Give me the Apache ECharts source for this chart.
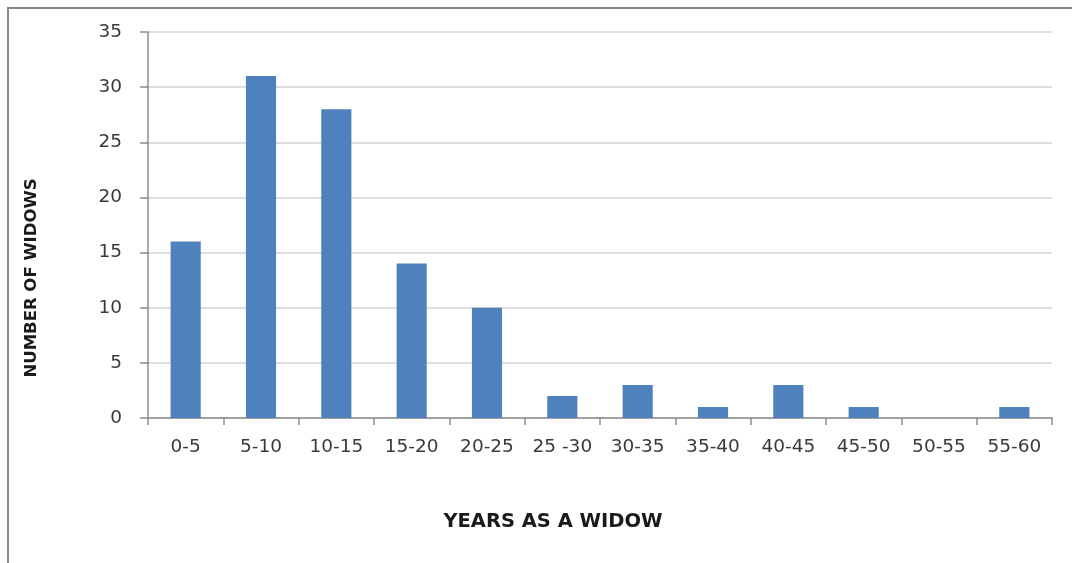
<!DOCTYPE html>
<html>
<head>
<meta charset="utf-8">
<script src="https://cdn.jsdelivr.net/npm/echarts@6/dist/echarts.min.js"></script>
<style>
  html, body { margin: 0; padding: 0; background: #fff; }
  #chart { width: 1072px; height: 563px; }
</style>
</head>
<body>
<div id="chart"></div>
<script>
// Years spent as a widow, grouped in 5-year bands
const categories = ['0-5', '5-10', '10-15', '15-20', '20-25', '25 -30', '30-35', '35-40', '40-45', '45-50', '50-55', '55-60'];
const widowCounts = [16, 31, 28, 14, 10, 2, 3, 1, 3, 1, 0, 1];
const yTicks = { min: 0, max: 35, interval: 5 };
const xTitle = 'YEARS AS A WIDOW';
const yTitle = 'NUMBER OF WIDOWS';

const chart = echarts.init(document.getElementById('chart'), null, { renderer: 'canvas' });

const axisGray = '#8c8c8c';
const tickFont = '"DejaVu Sans", sans-serif';

chart.setOption({
  animation: false,
  backgroundColor: '#ffffff',
  graphic: [
    {
      // outer frame, running off the right and bottom edges
      type: 'rect',
      x: 0,
      y: 0,
      shape: { x: 8, y: 8, width: 1100, height: 600 },
      style: { fill: 'none', stroke: '#8a8a8a', lineWidth: 2 },
      silent: true
    },
    {
      // axis titles placed as free text so they sit where the layout wants them
      type: 'text',
      x: 553,
      y: 522,
      style: {
        text: xTitle,
        font: 'bold 19.5px "DejaVu Sans", sans-serif',
        fill: '#1a1a1a',
        align: 'center',
        verticalAlign: 'middle'
      },
      silent: true
    },
    {
      type: 'text',
      x: 32,
      y: 278,
      rotation: Math.PI / 2,
      style: {
        text: yTitle,
        font: 'bold 16.5px "DejaVu Sans", sans-serif',
        fill: '#1a1a1a',
        align: 'center',
        verticalAlign: 'middle'
      },
      silent: true
    }
  ],
  grid: { left: 148, top: 32, right: 20, bottom: 145, containLabel: false },
  xAxis: {
    type: 'category',
    data: categories,
    boundaryGap: true,
    axisLine: { lineStyle: { color: axisGray, width: 1.5 } },
    axisTick: { show: true, alignWithLabel: false, length: 7, lineStyle: { color: axisGray, width: 1.5 } },
    axisLabel: { fontFamily: tickFont, fontSize: 18.5, color: '#3a3a3a', margin: 20, interval: 0 },
    splitLine: { show: false }
  },
  yAxis: {
    type: 'value',
    min: yTicks.min,
    max: yTicks.max,
    interval: yTicks.interval,
    axisLine: { show: true, lineStyle: { color: axisGray, width: 1.5 } },
    axisTick: { show: true, length: 8, lineStyle: { color: axisGray, width: 1.5 } },
    axisLabel: { fontFamily: tickFont, fontSize: 18.5, color: '#3a3a3a', margin: 26 },
    splitLine: { show: true, lineStyle: { color: '#d4d4d4', width: 1.5 } }
  },
  series: [{
    type: 'bar',
    data: widowCounts,
    barWidth: '40%',
    itemStyle: { color: '#4f81bd' }
  }]
});
</script>
</body>
</html>
